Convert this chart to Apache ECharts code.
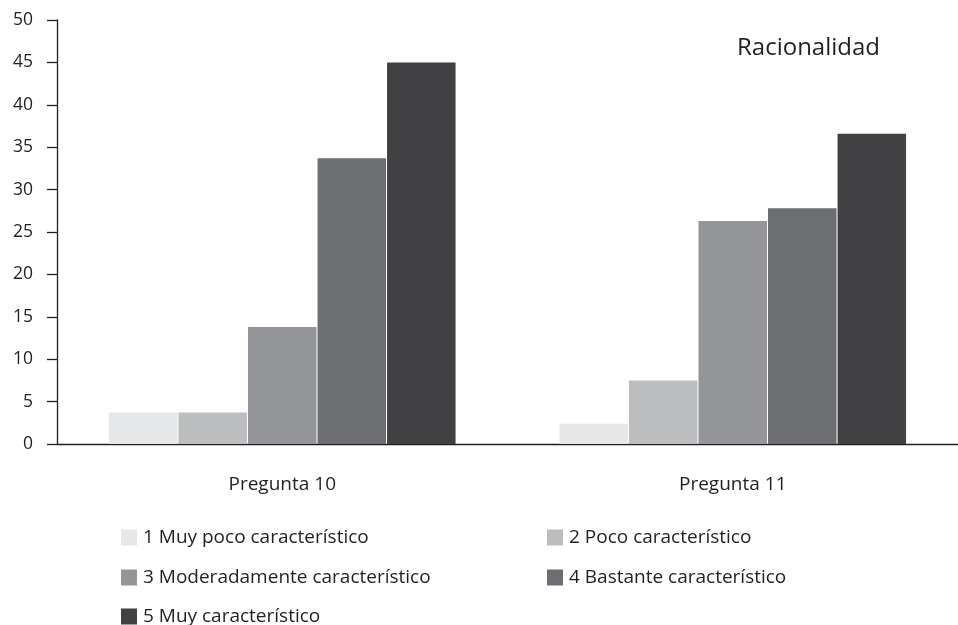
<!DOCTYPE html>
<html><head><meta charset="utf-8">
<script src="https://cdn.jsdelivr.net/npm/echarts@6/dist/echarts.min.js"></script>
<style>html,body{margin:0;padding:0;background:#fff}#c{width:958px;height:625px}</style>
</head><body><div id="c"></div>
<script>
const categories = ['Pregunta 10', 'Pregunta 11'];
const seriesNames = ['1 Muy poco característico', '2 Poco característico', '3 Moderadamente característico', '4 Bastante característico', '5 Muy característico'];
const s1 = [3.7, 2.4];
const s2 = [3.7, 7.5];
const s3 = [13.8, 26.3];
const s4 = [33.7, 27.8];
const s5 = [45.0, 36.6];
const yTicks = [0, 5, 10, 15, 20, 25, 30, 35, 40, 45, 50];
const colors = ['#e6e7e8', '#bcbdbf', '#939598', '#6d6e71', '#414042'];
const values = [s1, s2, s3, s4, s5];
const FONT = 'Open Sans';
const legendPos = [[116, 523], [542, 523], [116, 563], [542, 563], [116, 602]];
const chart = echarts.init(document.getElementById('c'));
chart.setOption({
  animation: false,
  textStyle: { fontFamily: FONT },
  title: { text: 'Racionalidad', left: 732, top: 31, textStyle: { fontFamily: FONT, fontSize: 24, fontWeight: 'normal', color: '#231f20' } },
  grid: { left: 57, right: 0, top: 20, bottom: 181 },
  legend: seriesNames.map((n, i) => ({
    data: [n], left: legendPos[i][0], top: legendPos[i][1], itemWidth: 16, itemHeight: 16, itemGap: 0,
    icon: 'rect', selectedMode: false,
    textStyle: { fontFamily: FONT, fontSize: 19, color: '#231f20', padding: [0, 0, 0, 1] }
  })),
  xAxis: {
    type: 'category', data: categories,
    axisLine: { lineStyle: { color: '#231f20', width: 1.3 } },
    axisTick: { length: 10, lineStyle: { color: '#231f20', width: 1.3 } },
    axisLabel: { fontFamily: FONT, fontSize: 19, color: '#231f20', margin: 31 }
  },
  yAxis: {
    type: 'value', min: 0, max: 50, interval: 5,
    splitLine: { show: false },
    axisLine: { show: true, lineStyle: { color: '#231f20', width: 1.3 } },
    axisTick: { show: true, length: 10, lineStyle: { color: '#231f20', width: 1.3 } },
    axisLabel: { fontFamily: FONT, fontSize: 17.5, color: '#231f20', margin: 24,
      formatter: v => yTicks.includes(v) ? String(v) : '' }
  },
  series: seriesNames.map((n, i) => ({
    name: n, type: 'bar', data: values[i], barWidth: 68.5, barGap: '1.5%',
    itemStyle: { color: colors[i] }
  }))
});
</script></body></html>
